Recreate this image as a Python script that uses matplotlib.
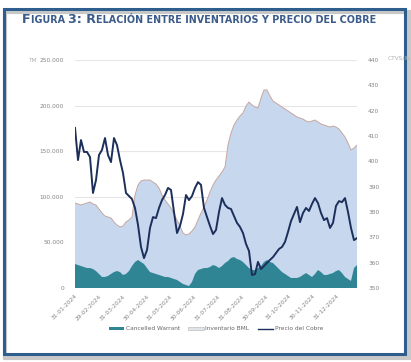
import numpy as np
import matplotlib
matplotlib.use("Agg")
import matplotlib.pyplot as plt
from matplotlib.patches import Rectangle, Patch
from matplotlib.lines import Line2D

# data (one point every ~3 trading days)
inventario_bml = [93200, 92100, 91000, 92100, 93200, 94300, 92100, 91000, 86600, 82200,
                  78900, 77900, 76800, 72400, 69100, 66900, 68000, 72400, 74600, 77900,
                  102000, 112900, 117300, 118400, 118400, 118400, 116200, 114000, 109600, 102000,
                  96500, 92100, 87700, 81100, 74600, 68000, 60300, 58100, 59200, 62500,
                  66900, 74600, 82200, 88800, 96500, 105300, 112900, 118400, 122800, 127200,
                  132700, 156800, 170000, 178700, 184200, 188600, 191900, 199600, 203900, 200700,
                  198500, 197400, 208300, 217100, 217100, 210500, 205000, 202900, 200700, 198500,
                  196300, 194100, 191900, 189700, 187500, 186400, 185300, 183100, 182000, 183100,
                  184200, 182000, 179800, 178700, 177600, 176500, 177600, 176500, 174300, 170000,
                  165600, 159000, 151300, 153500, 156800]

cancelled_warrant = [26300, 25200, 24100, 23000, 21900, 21900, 20800, 18600, 15400, 12100,
                     12100, 13200, 15400, 17500, 18600, 17500, 14300, 15400, 18600, 24100,
                     28500, 30700, 28500, 26300, 21900, 17500, 16400, 15400, 14300, 13200,
                     12100, 12100, 11000, 9900, 8800, 6600, 4400, 3300, 2200, 6600,
                     15400, 19700, 20800, 21900, 21900, 23000, 25200, 24100, 21900, 24100,
                     27400, 29600, 32900, 34000, 31800, 30700, 28500, 25200, 21900, 19700,
                     19700, 21900, 24100, 28500, 30700, 28500, 27400, 24100, 20800, 17500,
                     15400, 13200, 11000, 11000, 11000, 12100, 14300, 16400, 14300, 12100,
                     15400, 19700, 17500, 14300, 14300, 15400, 16400, 18600, 19700, 16400,
                     12100, 9900, 7700, 21900, 25200]

precio_cobre = [413.2, 400.5, 408.4, 403.7, 403.7, 401.7, 387.5, 392.6, 402.5, 404.5,
                409.2, 402.5, 399.7, 409.2, 406.4, 400.5, 395.4, 387.5, 386.3, 385.1,
                381.6, 374.9, 366.2, 361.8, 365.0, 373.7, 378.0, 377.6, 381.6, 384.7,
                386.7, 389.5, 388.7, 380.0, 371.7, 374.5, 379.2, 386.7, 384.7, 386.3,
                389.5, 391.8, 390.7, 381.6, 378.0, 374.5, 371.3, 372.9, 380.0, 385.5,
                382.8, 381.6, 381.2, 378.4, 375.7, 374.1, 371.7, 367.4, 364.6, 355.1,
                355.5, 360.3, 357.5, 358.7, 359.9, 361.1, 362.2, 363.8, 365.4, 366.2,
                368.2, 372.1, 376.4, 379.2, 382.0, 376.0, 379.6, 381.6, 380.4, 383.2,
                385.5, 383.5, 379.6, 376.8, 377.6, 373.7, 375.7, 382.4, 384.3, 383.9,
                385.5, 380.0, 373.7, 368.9, 369.7]

fechas = ["31-01-2024", "29-02-2024", "31-03-2024", "30-04-2024", "31-05-2024", "30-06-2024",
          "31-07-2024", "31-08-2024", "30-09-2024", "31-10-2024", "30-11-2024", "31-12-2024"]

left_ticks = [0, 50000, 100000, 150000, 200000, 250000]
left_labels = ["0", "50.000", "100.000", "150.000", "200.000", "250.000"]
right_ticks = [350, 360, 370, 380, 390, 400, 410, 420, 430, 440]

gray = "#858585"
c_inv = "#c6d7ee"
c_inv_edge = "#c7a79f"
c_cw = "#2f8593"
c_price = "#1c2f5a"

fig = plt.figure(figsize=(4.11, 3.62), dpi=100)
fig.patch.set_facecolor("white")

# outer frame with a soft shadow
fig.add_artist(Rectangle((0.012, 0.012), 0.982, 0.955, transform=fig.transFigure,
                         facecolor="none", edgecolor="#c8c8c8", lw=3))
fig.add_artist(Rectangle((0.009, 0.022), 0.976, 0.952, transform=fig.transFigure,
                         facecolor="none", edgecolor="#2e5e8e", lw=2.2))

# title in small caps
runs = [("F", 9.1), ("IGURA ", 6.9), ("3: R", 9.1),
        ("ELACIÓN ENTRE INVENTARIOS Y PRECIO DEL COBRE", 6.9)]
fig.canvas.draw()
renderer = fig.canvas.get_renderer()
xpos = 22 / 411
for s, fs in runs:
    t = fig.text(xpos, 1 - 23 / 362, s, fontsize=fs, fontweight="bold",
                 color="#3b5b8a", ha="left", va="baseline")
    bb = t.get_window_extent(renderer)
    xpos += bb.width / fig.bbox.width

ax = fig.add_axes([75 / 411, 1 - 288 / 362, 282 / 411, 228 / 362])
x = np.arange(len(precio_cobre))

ax.fill_between(x, 0, inventario_bml, facecolor=c_inv, edgecolor="none", zorder=1)
ax.plot(x, inventario_bml, color=c_inv_edge, lw=0.7, zorder=2)
ax.fill_between(x, 0, cancelled_warrant, facecolor=c_cw, edgecolor="none", zorder=3)

ax.set_xlim(0, len(x) - 1)
ax.set_ylim(0, 250000)
ax.set_yticks(left_ticks)
ax.set_yticklabels(left_labels)
ax.grid(axis="y", color="#e6e6e6", lw=0.8, zorder=0)
ax.set_axisbelow(True)

tick_step = 23.8 / 3
ax.set_xticks(np.arange(len(fechas)) * tick_step)
ax.set_xticklabels(fechas, rotation=45, ha="right", va="top", rotation_mode="anchor")

for sp in ax.spines.values():
    sp.set_visible(False)
ax.tick_params(axis="both", length=0, labelsize=4.2, colors=gray)
ax.tick_params(axis="y", pad=8)
ax.tick_params(axis="x", pad=4)

ax2 = ax.twinx()
ax2.plot(x, precio_cobre, color=c_price, lw=1.4, zorder=5)
ax2.set_ylim(350, 440)
ax2.set_yticks(right_ticks)
for sp in ax2.spines.values():
    sp.set_visible(False)
ax2.tick_params(axis="y", length=0, labelsize=4.2, colors=gray, pad=8)

fig.text(28 / 411, 1 - 61 / 362, "TM", fontsize=4.2, color="#b0b0b0", va="center")
fig.text(388 / 411, 1 - 58 / 362, "CTVS/lb", fontsize=4.2, color="#b0b0b0", va="center")

handles = [Patch(facecolor=c_cw, edgecolor="none", label="Cancelled Warrant"),
           Patch(facecolor="#dfe3ea", edgecolor="#bfbfbf", lw=0.5, label="Inventario BML"),
           Line2D([0], [0], color=c_price, lw=1.0, label="Precio del Cobre")]
fig.legend(handles=handles, loc="center", bbox_to_anchor=(216 / 411, 1 - 329 / 362),
           ncol=3, frameon=False, fontsize=4.2, labelcolor="#666666",
           handlelength=2.6, handleheight=0.6, handletextpad=0.3, columnspacing=1.5)

fig.savefig("out.png", dpi=100)
